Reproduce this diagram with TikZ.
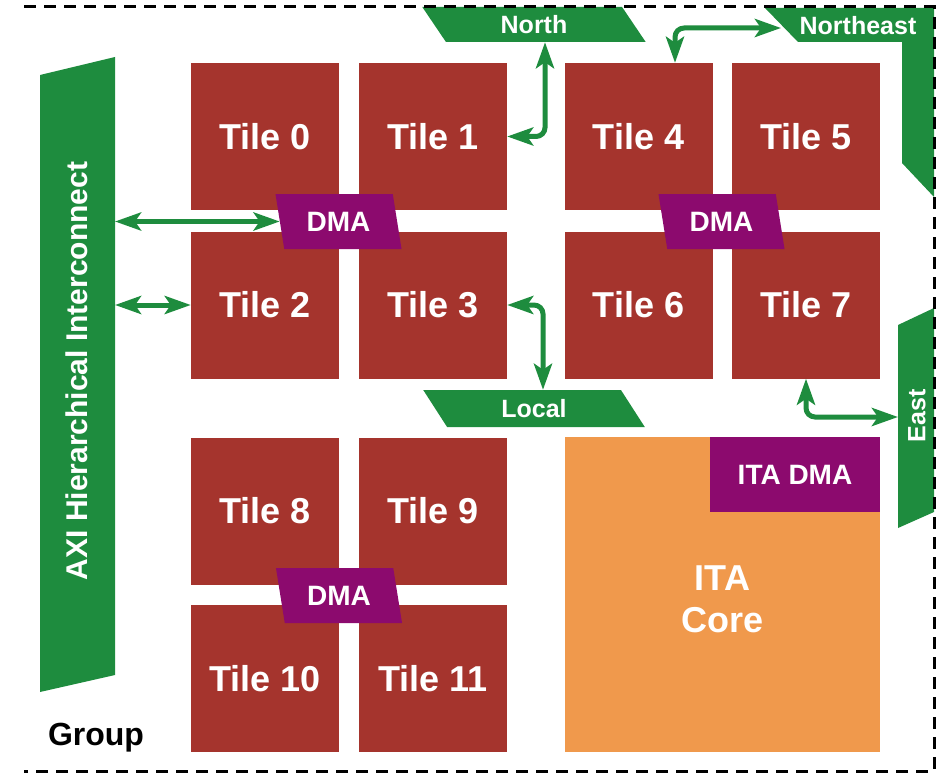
\documentclass[tikz,border=0pt]{standalone}
\usepackage{fontspec}
\setmainfont{Liberation Sans}
\usetikzlibrary{shapes.geometric,arrows.meta}

\begin{document}
\begin{tikzpicture}[x=1pt, y=-1pt,
  >={Stealth[length=26pt,width=18pt,inset=6pt]},
  tile/.style={fill=cTile, text=white, minimum width=148pt, minimum height=147pt,
    inner sep=0pt, font=\fontsize{36}{40}\selectfont\bfseries},
  dma/.style={trapezium, trapezium stretches=true, trapezium left angle=105,
    trapezium right angle=75, fill=cDMA, text=white, inner sep=0pt,
    minimum width=127pt, minimum height=55pt, font=\fontsize{28}{32}\selectfont\bfseries},
  port/.style={trapezium, trapezium stretches=true, trapezium left angle=116,
    trapezium right angle=64, fill=cLink, text=white, inner sep=0pt,
    font=\fontsize{25}{28}\selectfont\bfseries},
  lbl/.style={text=white, inner sep=0pt, font=\fontsize{25}{28}\selectfont\bfseries},
  link/.style={cLink, line width=5pt, <->, rounded corners=9pt},
]

\definecolor{cTile}{RGB}{165,52,45}
\definecolor{cDMA}{RGB}{140,10,110}
\definecolor{cLink}{RGB}{30,140,62}
\definecolor{cCore}{RGB}{240,153,76}

\useasboundingbox (0,0) rectangle (942,773);

%% tiles
\foreach \n/\x/\y in {0/265/136.5, 1/433/136.5, 4/638.5/136.5, 5/806/136.5,
                      2/265/305, 3/433/305, 6/638.5/305, 7/806/305,
                      8/265/511, 9/433/511, 10/265/678.5, 11/433/678.5}
  \node[tile] (t\n) at (\x,\y) {Tile \n};

%% DMA of each tile quad
\node[dma] (dma0) at (338.5,221.5) {DMA};
\node[dma] (dma1) at (721.5,221.5) {DMA};
\node[dma] (dma2) at (339,595.5) {DMA};

%% ITA accelerator
\node[fill=cCore, text=white, minimum width=315pt, minimum height=315pt, inner sep=0pt,
  align=center, font=\fontsize{36}{42}\selectfont\bfseries]
  (core) at (722.5,594.5) {\\[-8pt]ITA\\Core};
\node[fill=cDMA, text=white, minimum width=170pt, minimum height=75pt, inner sep=0pt,
  font=\fontsize{28}{32}\selectfont\bfseries] (itadma) at (795,474.5) {ITA DMA};

%% ports
\node[port, minimum width=224pt, minimum height=35pt] (north) at (534,24.5) {North};
\node[port, minimum width=222pt, minimum height=37pt] (local) at (534,408.5) {Local};

\fill[cLink] (765,8) -- (934,8) -- (934,197) -- (902,163) -- (902,42) -- (798,42) -- cycle;
\node[lbl] (ne) at (858,26) {Northeast};

\fill[cLink] (898,325) -- (934,308) -- (934,512) -- (898,528) -- cycle;
\node[lbl, rotate=90] (east) at (917,416) {East};

\fill[cLink] (40,75) -- (115,57) -- (115,675) -- (40,692) -- cycle;
\node[lbl, rotate=90, font=\fontsize{30}{34}\selectfont\bfseries] (axi) at (77,371)
  {AXI Hierarchical Interconnect};

\coordinate (axi-r) at (115,0);
\coordinate (ne-w) at (781,28);
\coordinate (east-w) at (898,417);

%% links
\draw[link] (axi-r |- dma0.west) -- (dma0.west);
\draw[link] (axi-r |- t2.west) -- (t2.west);
\draw[link] (t1.east) -| ([xshift=11pt]north.south);
\draw[link] ([xshift=36.5pt]t4.north) |- (ne-w);
\draw[link] (t3.east) -| ([xshift=9pt]local.north);
\draw[link] (t7.south) |- (east-w);

\node[font=\fontsize{32}{36}\selectfont\bfseries] (group) at (96,738) {Group};

%% group border
\draw[line width=3pt, dash pattern=on 12pt off 8pt] (24,7) -- (934,7) -- (934,771) -- (24,771);

\end{tikzpicture}
\end{document}
